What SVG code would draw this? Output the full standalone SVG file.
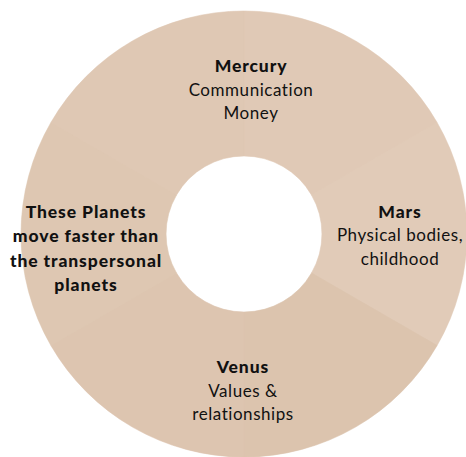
<svg xmlns="http://www.w3.org/2000/svg" width="466" height="457" viewBox="0 0 466 457">
<style>
.t{font-family:Lato,"Open Sans","Liberation Sans",sans-serif;fill:#111;text-anchor:middle}
.h{font-weight:900;font-size:17.5px;letter-spacing:0.9px}
.b{font-weight:400;font-size:17px;letter-spacing:0.55px}
.s{stroke-width:0.6}
</style>
<rect width="466" height="457" fill="#fff"/>
<g id="ring">
<circle cx="244" cy="234" r="150.5" fill="none" stroke="#dec7b3" stroke-width="144"/>
<path class="s" d="M244 11 A223 223 0 0 1 437.1 122.5 L311.5 195 A78 78 0 0 0 244 156 Z" fill="#e0c9b6" stroke="#e0c9b6"/>
<path class="s" d="M437.1 122.5 A223 223 0 0 1 437.1 345.5 L311.5 273 A78 78 0 0 0 311.5 195 Z" fill="#e1cbb8" stroke="#e1cbb8"/>
<path class="s" d="M437.1 345.5 A223 223 0 0 1 244 457 L244 312 A78 78 0 0 0 311.5 273 Z" fill="#dcc4ae" stroke="#dcc4ae"/>
<path class="s" d="M244 457 A223 223 0 0 1 50.9 345.5 L176.5 273 A78 78 0 0 0 244 312 Z" fill="#ddc5b0" stroke="#ddc5b0"/>
<path class="s" d="M50.9 345.5 A223 223 0 0 1 50.9 122.5 L176.5 195 A78 78 0 0 0 176.5 273 Z" fill="#dec7b2" stroke="#dec7b2"/>
<path class="s" d="M50.9 122.5 A223 223 0 0 1 244 11 L244 156 A78 78 0 0 0 176.5 195 Z" fill="#dfc8b4" stroke="#dfc8b4"/>
</g>
<g id="mercury">
<text class="t h" x="251" y="72">Mercury</text>
<text class="t b" x="251" y="96">Communication</text>
<text class="t b" x="251" y="119">Money</text>
</g>
<g id="mars">
<text class="t h" x="400" y="218">Mars</text>
<text class="t b" x="400" y="241">Physical bodies,</text>
<text class="t b" x="400" y="265">childhood</text>
</g>
<g id="venus">
<text class="t h" x="243" y="373">Venus</text>
<text class="t b" x="243" y="397">Values &amp;</text>
<text class="t b" x="243" y="420">relationships</text>
</g>
<g id="left">
<text class="t h" x="86" y="218">These Planets</text>
<text class="t h" x="86" y="242">move faster than</text>
<text class="t h" x="86" y="267">the transpersonal</text>
<text class="t h" x="86" y="291">planets</text>
</g>
</svg>
